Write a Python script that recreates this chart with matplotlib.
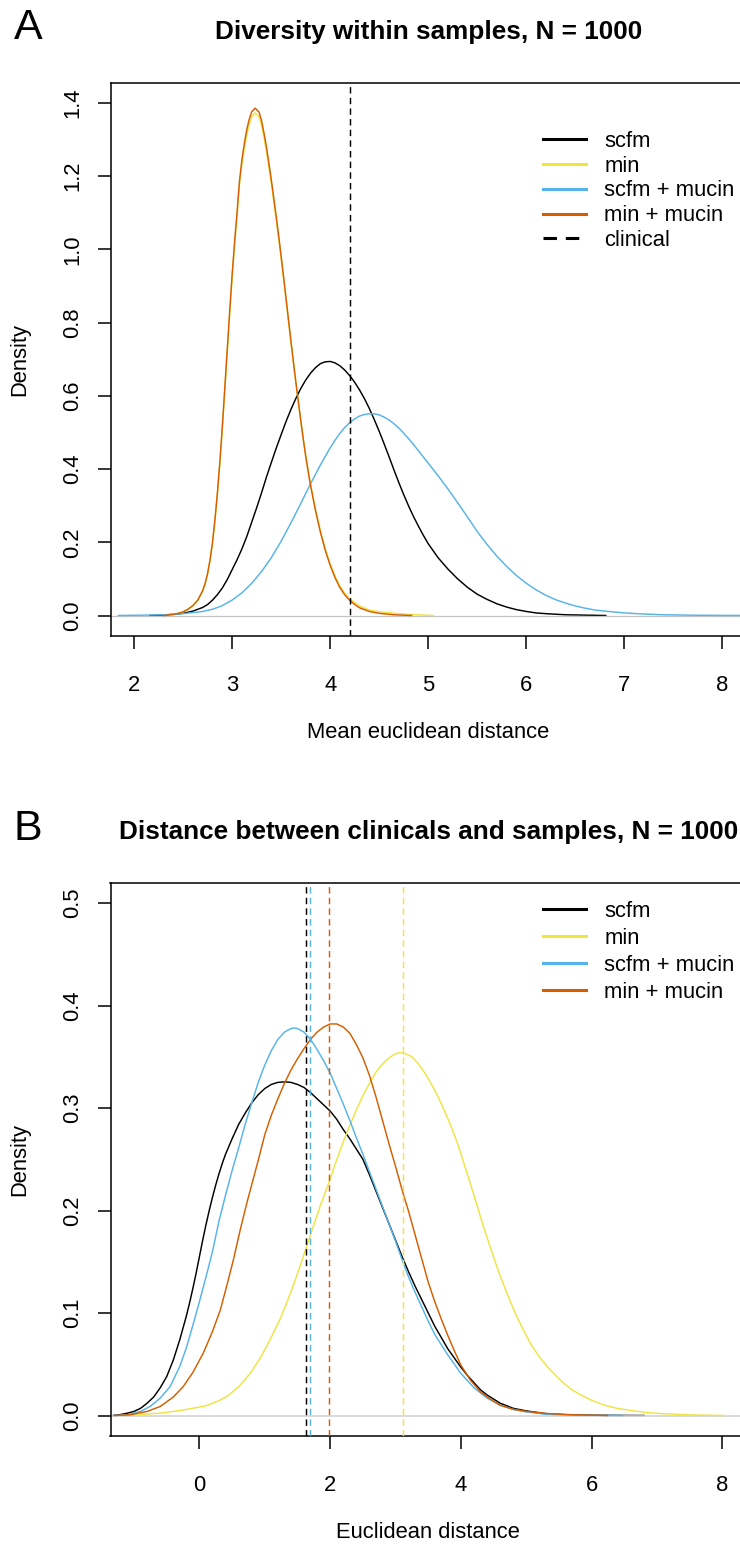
import matplotlib
matplotlib.use("Agg")
import matplotlib.pyplot as plt

plt.rcParams['font.family'] = ['Liberation Sans', 'DejaVu Sans']

# ---------------- data: panel A (Diversity within samples) ----------------
a_scfm_x = [2.16, 2.30, 2.40, 2.50, 2.60, 2.70, 2.75, 2.80, 2.85, 2.90, 2.95, 3.00, 3.05, 3.10,
            3.15, 3.20, 3.25, 3.30, 3.35, 3.40, 3.45, 3.50, 3.55, 3.60, 3.65, 3.70, 3.75, 3.80,
            3.85, 3.90, 3.95, 4.00, 4.05, 4.10, 4.15, 4.20, 4.25, 4.30, 4.35, 4.40, 4.45, 4.50,
            4.55, 4.60, 4.65, 4.70, 4.75, 4.80, 4.85, 4.90, 4.95, 5.00, 5.10, 5.20, 5.30, 5.40,
            5.50, 5.60, 5.70, 5.80, 5.90, 6.00, 6.10, 6.20, 6.40, 6.60, 6.81]
a_scfm_y = [0.000, 0.001, 0.003, 0.006, 0.012, 0.022, 0.030, 0.042, 0.057, 0.075, 0.098, 0.125,
            0.152, 0.182, 0.216, 0.255, 0.294, 0.335, 0.378, 0.418, 0.457, 0.494, 0.530, 0.563,
            0.593, 0.620, 0.643, 0.662, 0.677, 0.688, 0.693, 0.694, 0.690, 0.682, 0.670, 0.655,
            0.637, 0.616, 0.592, 0.565, 0.535, 0.503, 0.469, 0.434, 0.398, 0.363, 0.330, 0.299,
            0.270, 0.244, 0.219, 0.196, 0.158, 0.127, 0.100, 0.077, 0.058, 0.044, 0.032, 0.023,
            0.016, 0.011, 0.007, 0.005, 0.002, 0.001, 0.000]

a_min_x = [2.37, 2.40, 2.45, 2.50, 2.55, 2.60, 2.65, 2.70, 2.725, 2.75, 2.775, 2.80, 2.825,
           2.85, 2.875, 2.90, 2.925, 2.95, 2.975, 3.00, 3.025, 3.05, 3.075, 3.10, 3.125, 3.15,
           3.175, 3.20, 3.235, 3.275, 3.30, 3.325, 3.35, 3.375, 3.40, 3.425, 3.45, 3.475, 3.50,
           3.525, 3.55, 3.575, 3.60, 3.625, 3.65, 3.675, 3.70, 3.725, 3.75, 3.775, 3.80, 3.85,
           3.90, 3.95, 4.00, 4.05, 4.10, 4.15, 4.20, 4.30, 4.40, 4.50, 4.65, 4.80, 5.05]
a_min_y = [0.000, 0.003, 0.006, 0.010, 0.017, 0.027, 0.042, 0.067, 0.087, 0.113, 0.150, 0.197,
           0.258, 0.330, 0.414, 0.508, 0.612, 0.716, 0.820, 0.920, 1.010, 1.090, 1.178, 1.232,
           1.276, 1.315, 1.342, 1.362, 1.373, 1.362, 1.339, 1.306, 1.267, 1.224, 1.179, 1.130,
           1.080, 1.028, 0.974, 0.918, 0.861, 0.803, 0.746, 0.690, 0.636, 0.584, 0.532, 0.484,
           0.438, 0.397, 0.358, 0.291, 0.232, 0.182, 0.141, 0.107, 0.080, 0.060, 0.045, 0.026,
           0.015, 0.010, 0.006, 0.003, 0.000]

a_scfm_mucin_x = [1.84, 2.10, 2.30, 2.50, 2.60, 2.70, 2.80, 2.90, 3.00, 3.10, 3.20, 3.30, 3.40,
                  3.50, 3.60, 3.70, 3.80, 3.90, 3.95, 4.00, 4.05, 4.10, 4.15, 4.20, 4.25, 4.30,
                  4.35, 4.40, 4.45, 4.50, 4.55, 4.60, 4.65, 4.70, 4.75, 4.80, 4.85, 4.90, 4.95,
                  5.00, 5.10, 5.20, 5.30, 5.40, 5.50, 5.60, 5.70, 5.80, 5.90, 6.00, 6.10, 6.20,
                  6.30, 6.40, 6.50, 6.60, 6.70, 6.80, 7.00, 7.20, 7.40, 7.70, 8.00, 8.40]
a_scfm_mucin_y = [0.000, 0.001, 0.002, 0.005, 0.008, 0.011, 0.017, 0.027, 0.042, 0.062, 0.088,
                  0.120, 0.158, 0.203, 0.253, 0.306, 0.360, 0.411, 0.435, 0.458, 0.479, 0.498,
                  0.514, 0.527, 0.537, 0.545, 0.549, 0.551, 0.551, 0.548, 0.542, 0.534, 0.524,
                  0.512, 0.498, 0.483, 0.467, 0.450, 0.433, 0.416, 0.382, 0.346, 0.308, 0.269,
                  0.229, 0.194, 0.162, 0.134, 0.109, 0.088, 0.070, 0.055, 0.043, 0.034, 0.026,
                  0.020, 0.015, 0.012, 0.007, 0.004, 0.002, 0.0008, 0.0003, 0.000]

a_min_mucin_x = [2.30, 2.40, 2.45, 2.50, 2.55, 2.60, 2.65, 2.70, 2.725, 2.75, 2.775, 2.80, 2.825,
                 2.85, 2.875, 2.90, 2.925, 2.95, 2.975, 3.00, 3.025, 3.05, 3.075, 3.10, 3.125,
                 3.15, 3.175, 3.20, 3.235, 3.275, 3.30, 3.325, 3.35, 3.375, 3.40, 3.425, 3.45,
                 3.475, 3.50, 3.525, 3.55, 3.575, 3.60, 3.625, 3.65, 3.675, 3.70, 3.725, 3.75,
                 3.775, 3.80, 3.85, 3.90, 3.95, 4.00, 4.05, 4.10, 4.15, 4.20, 4.25, 4.30, 4.40,
                 4.50, 4.65, 4.83]
a_min_mucin_y = [0.000, 0.003, 0.006, 0.010, 0.017, 0.027, 0.042, 0.068, 0.088, 0.115, 0.152,
                 0.200, 0.262, 0.335, 0.420, 0.515, 0.620, 0.725, 0.830, 0.930, 1.020, 1.100,
                 1.186, 1.245, 1.290, 1.328, 1.356, 1.376, 1.386, 1.375, 1.352, 1.318, 1.280,
                 1.236, 1.190, 1.140, 1.090, 1.037, 0.982, 0.925, 0.867, 0.808, 0.750, 0.693,
                 0.638, 0.585, 0.533, 0.483, 0.436, 0.394, 0.355, 0.287, 0.228, 0.178, 0.137,
                 0.103, 0.076, 0.056, 0.041, 0.030, 0.021, 0.011, 0.006, 0.002, 0.000]

a_clinical = 4.2

# ---------------- data: panel B (Distance between clinicals and samples) ----------------
b_scfm_x = [-1.32, -1.20, -1.10, -1.00, -0.90, -0.80, -0.70, -0.60, -0.50, -0.40, -0.30, -0.20,
            -0.15, -0.10, -0.05, 0.00, 0.05, 0.10, 0.15, 0.20, 0.25, 0.30, 0.35, 0.40, 0.50,
            0.60, 0.70, 0.80, 0.90, 1.00, 1.10, 1.20, 1.30, 1.40, 1.50, 1.60, 1.70, 1.80, 1.90,
            2.00, 2.10, 2.20, 2.30, 2.40, 2.50, 2.60, 2.70, 2.80, 2.90, 3.00, 3.10, 3.20, 3.30,
            3.40, 3.50, 3.60, 3.70, 3.80, 3.90, 4.00, 4.10, 4.20, 4.30, 4.40, 4.50, 4.60, 4.80,
            5.00, 5.30, 5.60, 6.00, 6.40, 6.80]
b_scfm_y = [0.000, 0.001, 0.0023, 0.004, 0.007, 0.012, 0.018, 0.027, 0.038, 0.054, 0.074, 0.097,
            0.110, 0.124, 0.139, 0.155, 0.171, 0.186, 0.200, 0.213, 0.225, 0.236, 0.246, 0.255,
            0.270, 0.284, 0.295, 0.305, 0.313, 0.319, 0.323, 0.325, 0.3255, 0.325, 0.323, 0.320,
            0.315, 0.309, 0.303, 0.297, 0.289, 0.279, 0.270, 0.260, 0.250, 0.235, 0.219, 0.203,
            0.187, 0.171, 0.155, 0.140, 0.126, 0.113, 0.100, 0.087, 0.076, 0.065, 0.056, 0.047,
            0.039, 0.032, 0.025, 0.020, 0.016, 0.012, 0.007, 0.0045, 0.0018, 0.0008, 0.0003,
            0.0001, 0.000]

b_min_x = [-1.20, -0.90, -0.60, -0.30, -0.09, 0.10, 0.30, 0.42, 0.60, 0.78, 0.93, 1.08, 1.24,
           1.39, 1.52, 1.64, 1.75, 1.85, 1.95, 2.00, 2.10, 2.20, 2.30, 2.40, 2.50, 2.60, 2.70,
           2.80, 2.90, 3.00, 3.07, 3.15, 3.25, 3.35, 3.45, 3.55, 3.65, 3.75, 3.85, 3.95, 4.05,
           4.15, 4.25, 4.35, 4.45, 4.55, 4.65, 4.75, 4.85, 4.95, 5.06, 5.20, 5.32, 5.45, 5.57,
           5.70, 5.83, 6.00, 6.18, 6.40, 6.60, 6.85, 7.10, 7.50, 8.02]
b_min_y = [0.000, 0.001, 0.0023, 0.0048, 0.0072, 0.0095, 0.0145, 0.0185, 0.028, 0.0414, 0.056,
           0.0739, 0.095, 0.119, 0.142, 0.165, 0.186, 0.205, 0.222, 0.231, 0.2495, 0.267, 0.283,
           0.298, 0.312, 0.324, 0.335, 0.343, 0.349, 0.353, 0.354, 0.353, 0.350, 0.343, 0.334,
           0.323, 0.311, 0.297, 0.282, 0.265, 0.245, 0.225, 0.204, 0.183, 0.164, 0.145, 0.128,
           0.112, 0.097, 0.084, 0.0706, 0.057, 0.0478, 0.039, 0.0316, 0.025, 0.0202, 0.0148,
           0.0104, 0.0068, 0.0049, 0.0028, 0.0017, 0.0006, 0.000]

b_scfm_mucin_x = [-1.30, -1.10, -0.90, -0.75, -0.60, -0.45, -0.30, -0.20, -0.10, 0.00, 0.10,
                  0.20, 0.30, 0.40, 0.50, 0.60, 0.70, 0.80, 0.90, 1.00, 1.10, 1.20, 1.30, 1.40,
                  1.45, 1.50, 1.60, 1.70, 1.80, 1.90, 2.00, 2.10, 2.20, 2.30, 2.40, 2.50, 2.60,
                  2.70, 2.80, 2.90, 3.00, 3.10, 3.20, 3.30, 3.40, 3.50, 3.60, 3.70, 3.80, 3.90,
                  4.00, 4.20, 4.40, 4.60, 4.80, 5.00, 5.30, 5.80, 6.47]
b_scfm_mucin_y = [0.000, 0.0007, 0.004, 0.009, 0.017, 0.028, 0.048, 0.066, 0.088, 0.111, 0.135,
                  0.160, 0.190, 0.215, 0.239, 0.261, 0.284, 0.305, 0.325, 0.342, 0.356, 0.367,
                  0.374, 0.3775, 0.378, 0.3775, 0.374, 0.367, 0.357, 0.346, 0.334, 0.319, 0.304,
                  0.288, 0.271, 0.255, 0.238, 0.221, 0.204, 0.187, 0.170, 0.152, 0.135, 0.120,
                  0.106, 0.092, 0.079, 0.069, 0.059, 0.050, 0.041, 0.027, 0.017, 0.010, 0.006,
                  0.0035, 0.0012, 0.0003, 0.000]

b_min_mucin_x = [-1.30, -1.06, -0.80, -0.60, -0.40, -0.25, -0.10, 0.06, 0.20, 0.32, 0.42, 0.52,
                 0.62, 0.72, 0.82, 0.90, 1.00, 1.10, 1.20, 1.30, 1.40, 1.50, 1.60, 1.70, 1.80,
                 1.90, 2.00, 2.10, 2.20, 2.30, 2.40, 2.50, 2.60, 2.70, 2.80, 2.90, 3.00, 3.10,
                 3.20, 3.30, 3.40, 3.50, 3.60, 3.70, 3.80, 3.90, 4.00, 4.15, 4.30, 4.45, 4.60,
                 4.80, 5.00, 5.30, 5.70, 6.24]
b_min_mucin_y = [0.000, 0.0007, 0.004, 0.0088, 0.018, 0.028, 0.042, 0.061, 0.082, 0.103, 0.127,
                 0.152, 0.180, 0.206, 0.230, 0.249, 0.274, 0.293, 0.309, 0.324, 0.337, 0.348,
                 0.358, 0.367, 0.374, 0.379, 0.382, 0.382, 0.379, 0.373, 0.362, 0.349, 0.332,
                 0.311, 0.288, 0.265, 0.243, 0.220, 0.199, 0.176, 0.153, 0.130, 0.111, 0.094,
                 0.078, 0.063, 0.049, 0.034, 0.023, 0.016, 0.010, 0.006, 0.004, 0.002, 0.0007,
                 0.000]

b_vlines = [1.633, 3.108, 1.695, 1.975]   # scfm, min, scfm + mucin, min + mucin

labels = ["scfm", "min", "scfm + mucin", "min + mucin"]
colors = ["#000000", "#F0E442", "#56B4E9", "#D55E00"]

# ---------------- figure ----------------
W, H = 740, 1545
DPI = 100
fig = plt.figure(figsize=(W / DPI, H / DPI), dpi=DPI)

def px_axes(left, top, right, bottom):
    return fig.add_axes([left / W, 1 - bottom / H, (right - left) / W, (bottom - top) / H])

FS = 15.8          # ~22 px
TITLE_FS = 18.8
LW = 1.05
DASH = (4.4, 2.9)

def style_axes(ax):
    for s in ax.spines.values():
        s.set_linewidth(1.1)
    ax.tick_params(direction='out', length=9.5, width=1.1, labelsize=FS, pad=18.5)
    ax.tick_params(axis='y', pad=10)

# ---------- Panel A ----------
axA = px_axes(110.5, 82.5, 746, 636)
axA.plot(a_scfm_x, a_scfm_y, color=colors[0], lw=LW, label=labels[0], zorder=2)
axA.axhline(0, color='#c4c4c4', lw=0.9, zorder=2.5)
axA.plot(a_min_x, a_min_y, color=colors[1], lw=LW, label=labels[1], zorder=3)
axA.plot(a_scfm_mucin_x, a_scfm_mucin_y, color=colors[2], lw=LW, label=labels[2], zorder=4)
axA.plot(a_min_mucin_x, a_min_mucin_y, color=colors[3], lw=LW, label=labels[3], zorder=5)
axA.axvline(a_clinical, color='black', lw=LW, dashes=DASH, label='clinical', zorder=6)
axA.set_xlim(1.76, 8.24)
axA.set_ylim(-0.056, 1.456)
axA.set_xticks([2, 3, 4, 5, 6, 7, 8])
axA.set_yticks([0.0, 0.2, 0.4, 0.6, 0.8, 1.0, 1.2, 1.4])
axA.set_yticklabels(["0.0", "0.2", "0.4", "0.6", "0.8", "1.0", "1.2", "1.4"],
                    rotation=90, va='center')
style_axes(axA)
axA.set_xlabel("Mean euclidean distance", fontsize=FS, labelpad=19)
axA.set_ylabel("Density", fontsize=FS, labelpad=23)
axA.set_title("Diversity within samples, N = 1000", fontsize=TITLE_FS,
              fontweight='bold', pad=31)
legA = axA.legend(loc='upper left', bbox_to_anchor=((543 - 110.5) / 635.5, (636 - 131) / 553.5),
                  frameon=False, fontsize=FS, handlelength=1.95, handletextpad=0.85,
                  labelspacing=0.17, borderpad=0, borderaxespad=0)
for ln in legA.get_lines():
    ln.set_linewidth(2.2)

# ---------- Panel B ----------
axB = px_axes(110.5, 882.5, 746, 1436)
axB.plot(b_scfm_x, b_scfm_y, color=colors[0], lw=LW, label=labels[0], zorder=2)
axB.axhline(0, color='#d4d4d4', lw=1.2, zorder=2.5)
axB.plot(b_min_x, b_min_y, color=colors[1], lw=LW, label=labels[1], zorder=3)
axB.plot(b_scfm_mucin_x, b_scfm_mucin_y, color=colors[2], lw=LW, label=labels[2], zorder=4)
axB.plot(b_min_mucin_x, b_min_mucin_y, color=colors[3], lw=LW, label=labels[3], zorder=5)
for v, c in zip(b_vlines, colors):
    axB.axvline(v, color=c, lw=LW, dashes=DASH, zorder=6)
axB.set_xlim(-1.36, 8.36)
axB.set_ylim(-0.02, 0.52)
axB.set_xticks([0, 2, 4, 6, 8])
axB.set_yticks([0.0, 0.1, 0.2, 0.3, 0.4, 0.5])
axB.set_yticklabels(["0.0", "0.1", "0.2", "0.3", "0.4", "0.5"], rotation=90, va='center')
style_axes(axB)
axB.set_xlabel("Euclidean distance", fontsize=FS, labelpad=19)
axB.set_ylabel("Density", fontsize=FS, labelpad=23)
axB.set_title("Distance between clinicals and samples, N = 1000", fontsize=TITLE_FS,
              fontweight='bold', pad=31)
legB = axB.legend(loc='upper left', bbox_to_anchor=((543 - 110.5) / 635.5, (1436 - 901) / 553.5),
                  frameon=False, fontsize=FS, handlelength=1.95, handletextpad=0.85,
                  labelspacing=0.27, borderpad=0, borderaxespad=0)
for ln in legB.get_lines():
    ln.set_linewidth(2.2)

# panel letters
fig.text(28 / W, 1 - 28 / H, "A", fontsize=31, ha='center', va='center')
fig.text(28 / W, 1 - 829 / H, "B", fontsize=31, ha='center', va='center')

fig.savefig("out.png", dpi=DPI)
